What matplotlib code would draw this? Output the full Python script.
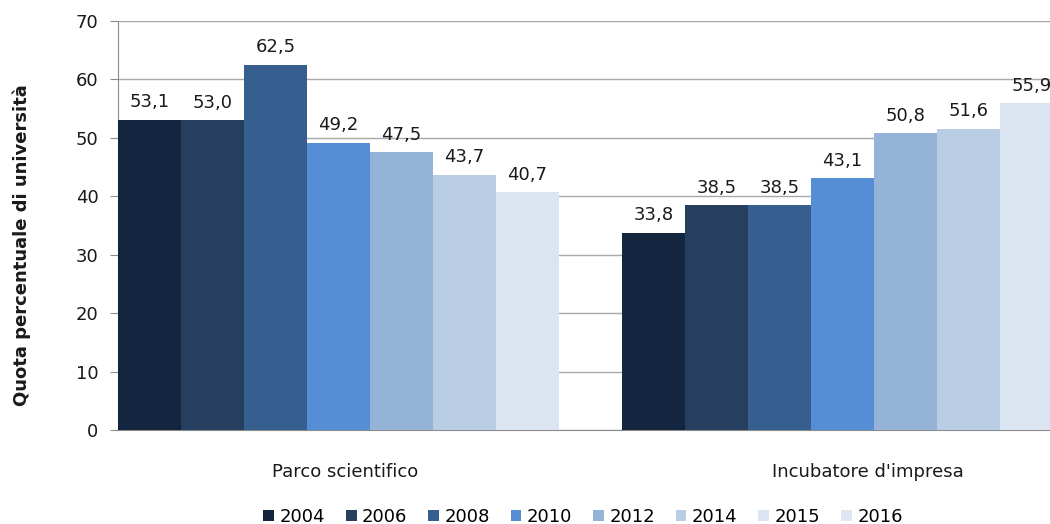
import numpy as np
import matplotlib
matplotlib.use("Agg")
import matplotlib.pyplot as plt

years = ["2004", "2006", "2008", "2010", "2012", "2014", "2015", "2016"]
categories = ["Parco scientifico", "Incubatore d'impresa"]
parco = [53.1, 53.0, 62.5, 49.2, 47.5, 43.7, 40.7, np.nan]
incubatore = [33.8, 38.5, 38.5, 43.1, 50.8, 51.6, 55.9, np.nan]
colors = ["#14253f", "#273f5f", "#365e8f", "#558ed5", "#95b3d7", "#b9cde5", "#dbe5f1", "#dde6f1"]
y_ticks = [0, 10, 20, 30, 40, 50, 60, 70]

plt.rcParams['font.family'] = ['DejaVu Sans']
FS = 13

fig = plt.figure(figsize=(10.5, 5.24), dpi=100)
ax = fig.add_axes([118/1050, 94/524, 945/1050, 409/524])

data = np.array([parco, incubatore])
n_series = len(years)
for j, (yr, col) in enumerate(zip(years, colors)):
    xs = np.arange(len(categories)) * n_series + j
    vals = data[:, j]
    bars = ax.bar(xs, vals, width=1.0, color=col, label=yr, zorder=3)
    labels = ["" if np.isnan(v) else f"{v:.1f}".replace('.', ',') for v in vals]
    ax.bar_label(bars, labels=labels, padding=6, fontsize=FS, color="#1a1a1a")

ax.set_xlim(-0.5, 14.5)
ax.set_ylim(0, 70)
ax.set_yticks(y_ticks)
ax.tick_params(axis='y', labelsize=FS, length=6, color="#8c8c8c", pad=8, labelcolor="#1a1a1a")
ax.yaxis.grid(True, color="#a8a8a8", linewidth=1.0, zorder=0)
ax.set_axisbelow(True)
for s in ["top", "right"]:
    ax.spines[s].set_visible(False)
ax.spines["left"].set_color("#8c8c8c")
ax.spines["bottom"].set_color("#8c8c8c")

ax.set_xticks([3.1, 11.4])
ax.set_xticklabels(categories, fontsize=FS, color="#1a1a1a")
ax.tick_params(axis='x', length=0, pad=24)

fig.text(22/1050, 1 - 245/524, "Quota percentuale di università", rotation=90,
         ha="center", va="center", fontsize=FS, fontweight="bold", color="#1a1a1a")

handles, labs = ax.get_legend_handles_labels()
fig.legend(handles, labs, loc="center", bbox_to_anchor=(583/1050, 1 - 517/524), ncol=8,
           frameon=False, fontsize=FS, handlelength=0.6, handleheight=0.6,
           handletextpad=0.3, columnspacing=1.15)

fig.savefig("out.png", dpi=100)
